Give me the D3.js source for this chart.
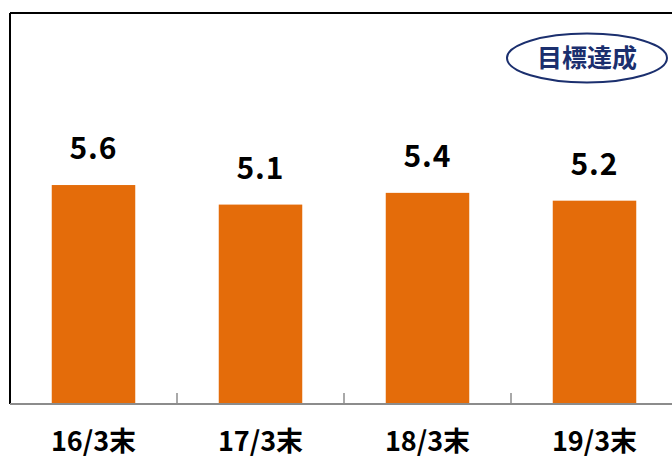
<!DOCTYPE html>
<html>
<head>
<meta charset="utf-8">
<script src="https://cdn.jsdelivr.net/npm/d3@7"></script>
<style>
  html, body { margin: 0; padding: 0; background: #fff; }
  svg { display: block; }
</style>
</head>
<body>
<svg id="chart" width="672" height="459"></svg>
<script>
// Period-end values
const categories = ["16/3末", "17/3末", "18/3末", "19/3末"];
const values = [5.6, 5.1, 5.4, 5.2];
const badgeText = "目標達成";

const svg = d3.select("#chart");
const W = 672, H = 459;
const plotLeft = 10, plotRight = 678, plotTop = 13, plotBottom = 404;

const x = d3.scaleBand().domain(categories).range([plotLeft, plotRight]).paddingInner(0.5).paddingOuter(0.25);
const y = d3.scaleLinear().domain([0, 10]).range([plotBottom, plotTop]);

const barColor = "#E46C0A";
const navy = "#1B2F6E";
const fontJP = "'Noto Sans CJK JP', 'Noto Sans', sans-serif";

// Frame: top and left borders
svg.append("line").attr("x1", plotLeft).attr("x2", W).attr("y1", plotTop).attr("y2", plotTop)
  .attr("stroke", "#000").attr("stroke-width", 2);
svg.append("line").attr("x1", plotLeft).attr("x2", plotLeft).attr("y1", plotTop).attr("y2", plotBottom)
  .attr("stroke", "#000").attr("stroke-width", 2);

// Bars
svg.selectAll("rect.bar").data(values).join("rect")
  .attr("class", "bar")
  .attr("x", (d, i) => x(categories[i]))
  .attr("width", x.bandwidth())
  .attr("y", d => y(d))
  .attr("height", d => y(0) - y(d))
  .attr("fill", barColor);

// Value labels
svg.selectAll("text.val").data(values).join("text")
  .attr("class", "val")
  .attr("x", (d, i) => x(categories[i]) + x.bandwidth() / 2)
  .attr("y", d => y(d) - 26)
  .attr("text-anchor", "middle")
  .attr("font-family", fontJP)
  .attr("font-weight", "bold")
  .attr("font-size", 30)
  .attr("letter-spacing", 1)
  .attr("fill", "#000")
  .text(d => d.toFixed(1));

// Category axis with ticks at band boundaries
const axisG = svg.append("g");
axisG.append("line").attr("x1", plotLeft).attr("x2", W).attr("y1", plotBottom).attr("y2", plotBottom)
  .attr("stroke", "#8c8c8c").attr("stroke-width", 2);
const boundaries = d3.range(1, categories.length).map(i => plotLeft + i * (plotRight - plotLeft) / categories.length);
axisG.selectAll("line.tick").data(boundaries).join("line")
  .attr("class", "tick")
  .attr("x1", d => d).attr("x2", d => d)
  .attr("y1", plotBottom - 11).attr("y2", plotBottom)
  .attr("stroke", "#8c8c8c").attr("stroke-width", 1.5);

axisG.selectAll("text.cat").data(categories).join("text")
  .attr("class", "cat")
  .attr("x", d => x(d) + x.bandwidth() / 2)
  .attr("y", 451)
  .attr("text-anchor", "middle")
  .attr("font-family", fontJP)
  .attr("font-weight", "bold")
  .attr("font-size", 27)
  .attr("fill", "#000")
  .text(d => d);

// Badge
const badge = svg.append("g").attr("transform", "translate(587,58)");
badge.append("ellipse").attr("rx", 80).attr("ry", 24.5)
  .attr("fill", "#fff").attr("stroke", navy).attr("stroke-width", 2);
badge.append("text")
  .attr("text-anchor", "middle")
  .attr("y", 9)
  .attr("font-family", fontJP)
  .attr("font-weight", "bold")
  .attr("font-size", 25)
  .attr("fill", navy)
  .text(badgeText);
</script>
</body>
</html>
